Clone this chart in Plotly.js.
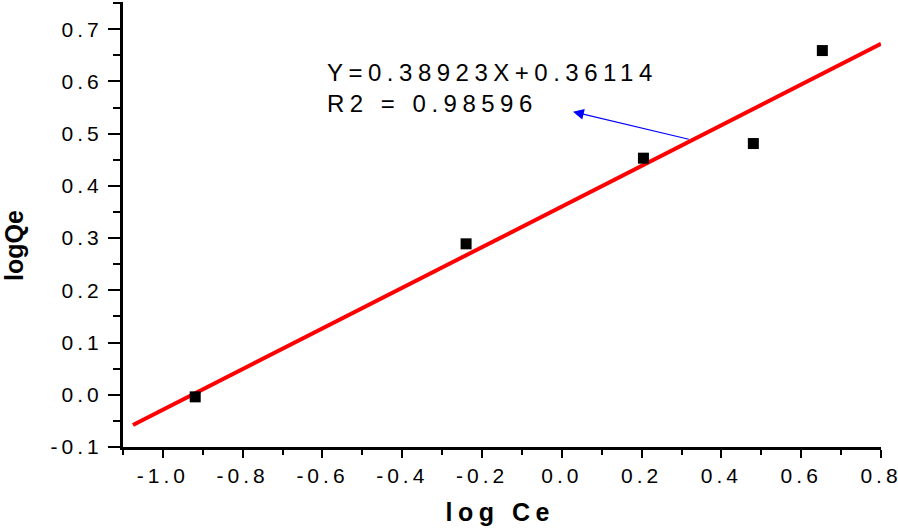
<!DOCTYPE html>
<html>
<head>
<meta charset="utf-8">
<script src="https://cdn.plot.ly/plotly-3.0.1.min.js"></script>
<style>
  body { margin: 0; background: #fff; }
  #chart { width: 898px; height: 532px; }
  .xtick text, .ytick text { letter-spacing: 4px; }
  .annotation[data-index="0"] text { letter-spacing: 5.5px; }
  .annotation[data-index="2"] text { letter-spacing: 5.5px; }
</style>
</head>
<body>
<div id="chart"></div>
<script>
// measured points
var logCe = [-0.919, -0.24, 0.2045, 0.48, 0.653];
var logQe = [-0.004, 0.289, 0.453, 0.481, 0.659];

// linear fit line ends
var fitX = [-1.075, 0.8];
var fitY = [-0.058, 0.672];

var xTickVals = [-1.0, -0.8, -0.6, -0.4, -0.2, 0.0, 0.2, 0.4, 0.6, 0.8];
var xTickText = ["-1.0", "-0.8", "-0.6", "-0.4", "-0.2", "0.0", "0.2", "0.4", "0.6", "0.8"];
var yTickVals = [-0.1, 0.0, 0.1, 0.2, 0.3, 0.4, 0.5, 0.6, 0.7];
var yTickText = ["-0.1", "0.0", "0.1", "0.2", "0.3", "0.4", "0.5", "0.6", "0.7"];

var fitLabel = "Y=0.38923X+0.36114<br>R2 = 0.98596";

var points = {
    x: logCe,
    y: logQe,
    mode: "markers",
    type: "scatter",
    marker: {symbol: "square", size: 11, color: "black"},
    hoverinfo: "none"
};
var fit = {
    x: fitX,
    y: fitY,
    mode: "lines",
    type: "scatter",
    line: {color: "#ff0000", width: 4},
    hoverinfo: "none"
};

var font = {family: "Liberation Sans, Arial, sans-serif", color: "black"};

var layout = {
    width: 898,
    height: 532,
    margin: {l: 123, r: 17, t: 2, b: 85},
    showlegend: false,
    paper_bgcolor: "white",
    plot_bgcolor: "white",
    font: font,
    xaxis: {
        range: [-1.1, 0.8],
        showgrid: false,
        zeroline: false,
        showline: true,
        linecolor: "black",
        linewidth: 3,
        ticks: "outside",
        ticklen: 8,
        tickwidth: 2,
        tickcolor: "black",
        tickmode: "array",
        tickvals: xTickVals,
        ticktext: xTickText,
        tickfont: {family: font.family, size: 21, color: "black"},
        ticklabelstandoff: 0,
        ticklabeloverflow: "allow",
        minor: {tickmode: "linear", tick0: -1.1, dtick: 0.1, ticks: "outside", ticklen: 5, tickwidth: 2, tickcolor: "black", showgrid: false}
    },
    yaxis: {
        range: [-0.1, 0.752],
        showgrid: false,
        zeroline: false,
        showline: true,
        linecolor: "black",
        linewidth: 3,
        ticks: "outside",
        ticklen: 12,
        tickwidth: 2,
        tickcolor: "black",
        tickmode: "array",
        tickvals: yTickVals,
        ticktext: yTickText,
        tickfont: {family: font.family, size: 21, color: "black"},
        ticklabelstandoff: 1,
        minor: {tickmode: "linear", tick0: -0.1, dtick: 0.05, ticks: "outside", ticklen: 7, tickwidth: 2, tickcolor: "black", showgrid: false}
    },
    annotations: [
        {
            text: fitLabel,
            xref: "x", yref: "y",
            x: -0.593, y: 0.6475,
            xanchor: "left", yanchor: "top",
            align: "left",
            showarrow: false,
            font: {family: font.family, size: 24, color: "black"}
        },
        {
            text: "",
            xref: "x", yref: "y",
            x: 0.028, y: 0.542,
            axref: "x", ayref: "y",
            ax: 0.322, ay: 0.4885,
            showarrow: true,
            arrowhead: 2,
            arrowsize: 1.8,
            arrowwidth: 1.2,
            arrowcolor: "#0000ff"
        },
        {
            text: "log Ce",
            xref: "paper", yref: "paper",
            x: 0.497, y: -0.146,
            xanchor: "center", yanchor: "middle",
            showarrow: false,
            font: {family: font.family, size: 25, weight: "bold", color: "black"}
        },
        {
            text: "logQe",
            xref: "paper", yref: "paper",
            x: -0.1438, y: 0.454,
            xanchor: "center", yanchor: "middle",
            textangle: -90,
            showarrow: false,
            font: {family: font.family, size: 25, weight: "bold", color: "black"}
        }
    ]
};

Plotly.newPlot("chart", [fit, points], layout, {staticPlot: true});
</script>
</body>
</html>
